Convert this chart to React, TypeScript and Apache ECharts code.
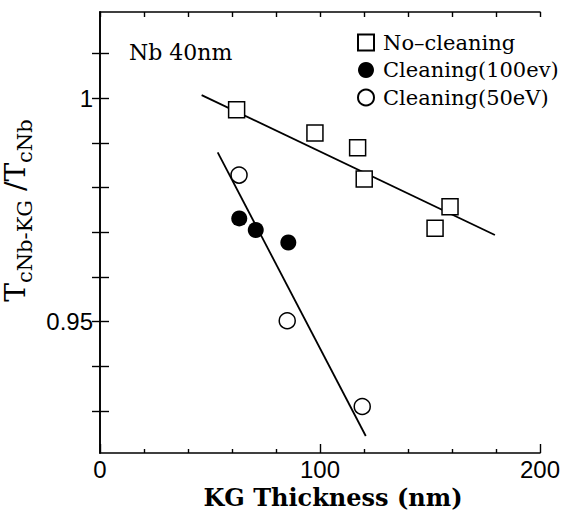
import React, { useEffect, useRef } from "react";
import * as echarts from "echarts";

const xLabelValues = [0, 100, 200];
const yTickValues = [0.93, 0.94, 0.95, 0.96, 0.97, 0.98, 0.99, 1.0, 1.01];
const yLabelValues = [0.95, 1];

const seriesNames = ["No–cleaning", "Cleaning(100ev)", "Cleaning(50eV)"];

const noCleaningX = [62.1, 97.7, 117.1, 120.1, 159.1, 152.3];
const noCleaningY = [0.9974, 0.9922, 0.9889, 0.9819, 0.9757, 0.9709];
const clean100X = [63.3, 70.8, 85.6];
const clean100Y = [0.9731, 0.9705, 0.9677];
const clean50X = [63.2, 85.1, 119.2];
const clean50Y = [0.9828, 0.9502, 0.931];

const fitNoCleaningX = [46.2, 179.5];
const fitNoCleaningY = [1.0007, 0.9694];
const fitCleaningX = [53.5, 120.8];
const fitCleaningY = [0.9879, 0.9244];

const zip = (xs: number[], ys: number[]) => xs.map((x, i) => [x, ys[i]]);

const SERIF = "DejaVu Serif";
const SANS = "Liberation Sans";

export default function App() {
  const ref = useRef<HTMLDivElement>(null);
  useEffect(() => {
    if (!ref.current) return;
    const chart = echarts.init(ref.current, null, { renderer: "svg" });
    const axisLine = { show: true, lineStyle: { color: "#000", width: 1.6 } };
    chart.setOption({
      animation: false,
      backgroundColor: "#fff",
      grid: { left: 100, right: 21, top: 12, bottom: 66, containLabel: false, outerBoundsMode: "none" },
      legend: {
        orient: "vertical",
        left: 352,
        top: 27,
        itemWidth: 16,
        itemHeight: 16,
        itemGap: 6.5,
        data: seriesNames,
        textStyle: { fontFamily: SERIF, fontSize: 21, color: "#000", padding: [0, 0, 0, 4] },
      },
      graphic: [
        {
          type: "text",
          left: 129,
          top: 41,
          style: { text: "Nb 40nm", font: `22px ${SERIF}`, fill: "#000" },
        },
      ],
      xAxis: [
        {
          type: "value",
          position: "bottom",
          min: 0,
          max: 200,
          interval: 100,
          axisLine,
          axisTick: { show: true, inside: true, length: 9, lineStyle: { color: "#000", width: 1.4 } },
          minorTick: { show: true, splitNumber: 5, length: 4, lineStyle: { color: "#000", width: 1.4 } },
          splitLine: { show: false },
          axisLabel: {
            customValues: xLabelValues,
            margin: 4,
            fontFamily: SANS,
            fontSize: 24,
            color: "#000",
            formatter: (v: number) => String(v),
          },
          name: "KG Thickness (nm)",
          nameLocation: "middle",
          nameGap: 30,
          nameTextStyle: {
            fontFamily: SERIF,
            fontWeight: "bold",
            fontSize: 24,
            color: "#000",
            padding: [0, 0, 0, 26],
          },
        },
        {
          type: "value",
          position: "top",
          min: 0,
          max: 200,
          interval: 20,
          axisLine,
          axisTick: { show: true, inside: true, length: 5, lineStyle: { color: "#000", width: 1.4 } },
          axisLabel: { show: false },
          splitLine: { show: false },
        },
      ],
      yAxis: [
        {
          type: "value",
          position: "left",
          min: 0.9206,
          max: 1.0193,
          axisLine,
          axisTick: {
            show: true,
            inside: true,
            length: 9,
            customValues: yTickValues,
            lineStyle: { color: "#000", width: 1.4 },
          },
          splitLine: { show: false },
          axisLabel: {
            customValues: yLabelValues,
            margin: 7,
            fontFamily: SANS,
            fontSize: 24,
            color: "#000",
            formatter: (v: number) => (Math.abs(v - 1) < 1e-9 ? "1" : v.toFixed(2)),
          },
          name: "{T|T}{s|cNb-KG}{T| /T}{s|cNb}",
          nameLocation: "middle",
          nameRotate: 90,
          nameGap: 58,
          nameTextStyle: {
            color: "#000",
            padding: [0, 0, 0, 44],
            rich: {
              T: { fontFamily: SERIF, fontSize: 28, lineHeight: 40, color: "#000" },
              s: { fontFamily: SERIF, fontSize: 21, lineHeight: 21, verticalAlign: "bottom", color: "#000" },
            },
          },
        },
        {
          type: "value",
          position: "right",
          min: 0.9206,
          max: 1.0193,
          axisLine,
          axisTick: {
            show: true,
            inside: true,
            length: 8,
            customValues: yTickValues,
            lineStyle: { color: "#000", width: 1.4 },
          },
          axisLabel: { show: false },
          splitLine: { show: false },
        },
      ],
      series: [
        {
          type: "line",
          data: zip(fitNoCleaningX, fitNoCleaningY),
          symbol: "none",
          lineStyle: { color: "#000", width: 1.8 },
          z: 1,
        },
        {
          type: "line",
          data: zip(fitCleaningX, fitCleaningY),
          symbol: "none",
          lineStyle: { color: "#000", width: 1.8 },
          z: 1,
        },
        {
          name: seriesNames[0],
          type: "scatter",
          data: zip(noCleaningX, noCleaningY),
          symbol: "rect",
          symbolSize: 16,
          itemStyle: { color: "#fff", borderColor: "#000", borderWidth: 1.5, opacity: 1 },
          z: 3,
        },
        {
          name: seriesNames[1],
          type: "scatter",
          data: zip(clean100X, clean100Y),
          symbol: "circle",
          symbolSize: 16,
          itemStyle: { color: "#000", opacity: 1 },
          z: 3,
        },
        {
          name: seriesNames[2],
          type: "scatter",
          data: zip(clean50X, clean50Y),
          symbol: "circle",
          symbolSize: 16,
          itemStyle: { color: "#fff", borderColor: "#000", borderWidth: 1.5, opacity: 1 },
          z: 3,
        },
      ],
    });
    return () => chart.dispose();
  }, []);
  return (
    <div
      ref={ref}
      style={{ position: "fixed", left: 0, top: 0, width: 561, height: 519, background: "#fff" }}
    />
  );
}
